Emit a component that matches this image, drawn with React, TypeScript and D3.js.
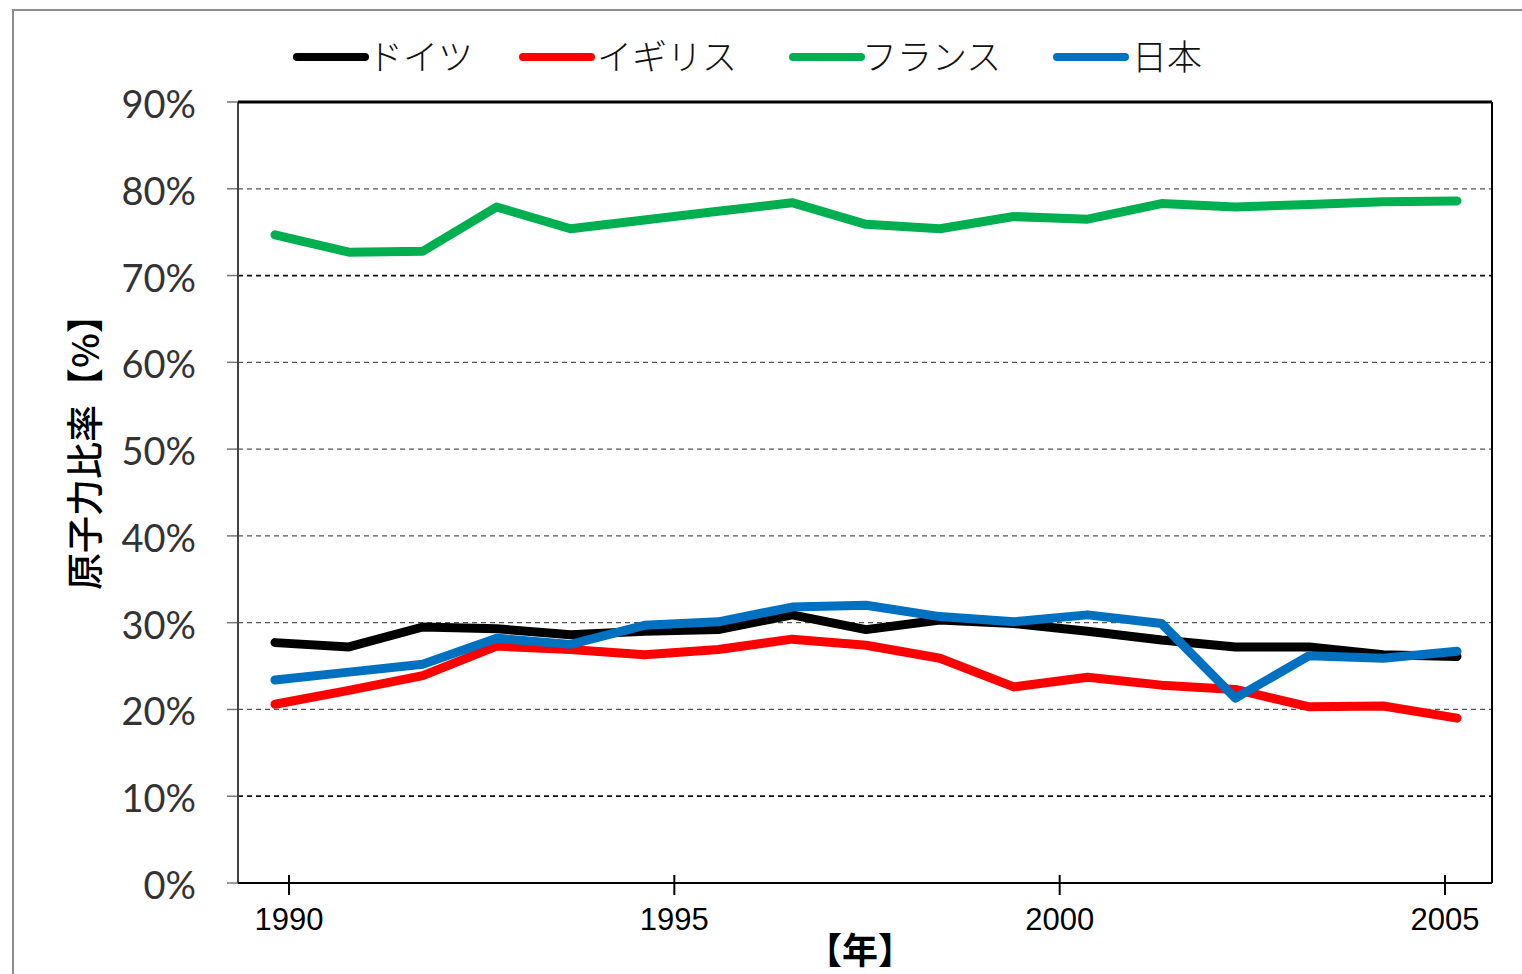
import React from "react";
import * as d3 from "d3";

// Nuclear share of electricity generation, 17 annual points per country
const periods = d3.range(17);
const germany = [27.7, 27.2, 29.5, 29.3, 28.6, 29.0, 29.2, 30.9, 29.2, 30.3, 29.9, 29.0, 28.0, 27.2, 27.2, 26.3, 26.1];
const uk = [20.6, 22.2, 23.9, 27.3, 26.9, 26.3, 26.9, 28.1, 27.4, 25.9, 22.6, 23.7, 22.8, 22.3, 20.3, 20.4, 19.0];
const france = [74.7, 72.7, 72.8, 77.9, 75.4, 76.4, 77.4, 78.4, 75.9, 75.4, 76.8, 76.5, 78.3, 77.9, 78.2, 78.5, 78.6];
const japan = [23.4, 24.3, 25.2, 28.2, 27.5, 29.7, 30.1, 31.8, 32.0, 30.7, 30.1, 30.9, 29.9, 21.3, 26.2, 25.9, 26.7];

const seriesNames = ["ドイツ", "イギリス", "フランス", "日本"];
const seriesColors = ["#000000", "#ff0000", "#00b050", "#0070c0"];
const seriesValues = [germany, uk, france, japan];

const yTicks = [0, 10, 20, 30, 40, 50, 60, 70, 80, 90];
const xTickYears = [1990, 1995, 2000, 2005];

const W = 1522;
const H = 974;
const plot = { left: 238, right: 1492, top: 102, bottom: 883 };

export default function App() {
  const y = d3.scaleLinear().domain([0, 90]).range([plot.bottom, plot.top]);
  const x = d3.scalePoint<number>().domain(periods).range([275, 1457]);
  const xYear = d3.scaleLinear().domain([1990, 2005]).range([289, 1445]);

  const line = (vals: number[]) =>
    d3
      .line<number>()
      .x((_, i) => x(periods[i]) as number)
      .y((v) => y(v))
      .curve(d3.curveLinear)(vals) as string;

  const tickFont = "Lato, 'Open Sans', sans-serif";
  const jpFont = "'Noto Sans CJK JP', sans-serif";

  const legendItems = [
    { lx: 297, tx: 368 },
    { lx: 523, tx: 597 },
    { lx: 793, tx: 862 },
    { lx: 1057, tx: 1132 },
  ];

  return (
    <svg
      width={W}
      height={H}
      viewBox={`0 0 ${W} ${H}`}
      style={{ position: "absolute", left: 0, top: 0, background: "#fff" }}
    >
      {/* outer chart frame */}
      <path d={`M13,${H} V10 H${W}`} fill="none" stroke="#8c8c8c" strokeWidth={2} />

      {/* legend */}
      {seriesNames.map((name, i) => (
        <g key={name}>
          <line
            x1={legendItems[i].lx}
            x2={legendItems[i].lx + 68}
            y1={57}
            y2={57}
            stroke={seriesColors[i]}
            strokeWidth={8}
            strokeLinecap="round"
          />
          <text
            x={legendItems[i].tx}
            y={54}
            dominantBaseline="central"
            fontFamily={jpFont}
            fontSize={35}
            fontWeight={300}
            fill="#111"
          >
            {name}
          </text>
        </g>
      ))}

      {/* horizontal gridlines */}
      {yTicks
        .filter((t) => t > 0 && t < 90)
        .map((t) => (
          <line
            key={t}
            x1={plot.left}
            x2={plot.right}
            y1={y(t)}
            y2={y(t)}
            stroke={t === 70 || t === 10 ? "#111" : "#555"}
            strokeWidth={t === 70 || t === 10 ? 1.8 : 1.2}
            strokeDasharray="5,4"
          />
        ))}

      {/* y ticks and labels */}
      {yTicks.map((t) => (
        <g key={t}>
          <line x1={plot.left - 11} x2={plot.left} y1={y(t)} y2={y(t)} stroke="#777" strokeWidth={1.5} />
          <text
            x={196}
            y={y(t) + 1}
            textAnchor="end"
            dominantBaseline="central"
            fontFamily={tickFont}
            fontSize={38}
            fill="#333"
          >
            {t}%
          </text>
        </g>
      ))}

      {/* plot frame */}
      <line x1={plot.left} x2={plot.left} y1={plot.top} y2={plot.bottom} stroke="#444" strokeWidth={2} />
      <line x1={plot.left} x2={plot.right} y1={plot.top} y2={plot.top} stroke="#000" strokeWidth={3} />
      <line x1={plot.right} x2={plot.right} y1={plot.top} y2={plot.bottom} stroke="#000" strokeWidth={2} />
      <line x1={plot.left} x2={plot.right} y1={plot.bottom} y2={plot.bottom} stroke="#000" strokeWidth={2} />

      {/* x ticks and labels */}
      {xTickYears.map((yr) => (
        <g key={yr}>
          <line x1={xYear(yr)} x2={xYear(yr)} y1={plot.bottom - 8} y2={plot.bottom + 12} stroke="#000" strokeWidth={2} />
          <text
            x={xYear(yr)}
            y={919}
            textAnchor="middle"
            dominantBaseline="central"
            fontFamily="'Liberation Sans Narrow', 'Liberation Sans', Arial, sans-serif"
            fontSize={31}
            fill="#000"
          >
            {yr}
          </text>
        </g>
      ))}

      {/* series */}
      {seriesValues.map((vals, i) => (
        <path
          key={seriesNames[i]}
          d={line(vals)}
          fill="none"
          stroke={seriesColors[i]}
          strokeWidth={9}
          strokeLinejoin="round"
          strokeLinecap="round"
        />
      ))}

      {/* axis titles */}
      <text
        x={860}
        y={948}
        textAnchor="middle"
        dominantBaseline="central"
        fontFamily={jpFont}
        fontSize={36}
        fontWeight={700}
        fill="#000"
      >
        【年】
      </text>
      <text
        transform={`translate(83,443) rotate(-90)`}
        textAnchor="middle"
        dominantBaseline="central"
        fontFamily={jpFont}
        fontSize={37}
        fontWeight={500}
        fill="#000"
      >
        原子力比率【%】
      </text>
    </svg>
  );
}
